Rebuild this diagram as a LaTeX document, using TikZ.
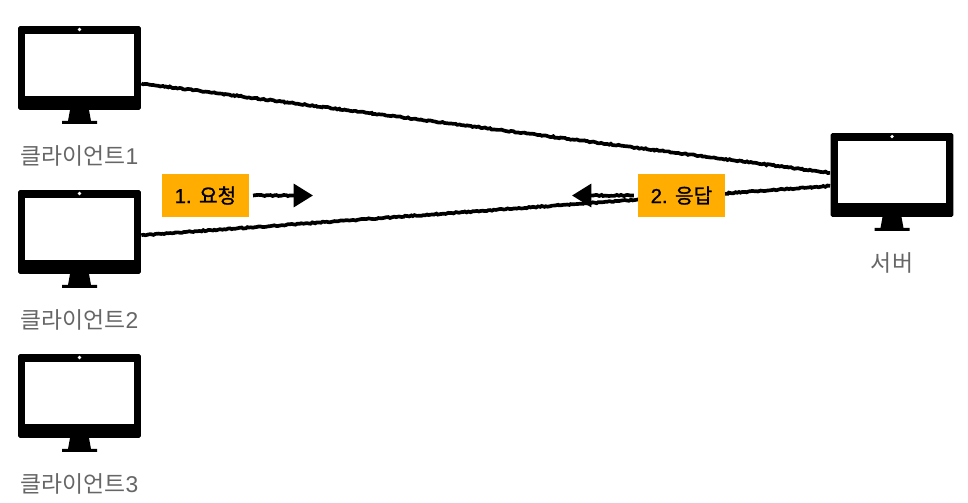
\documentclass[tikz,border=0pt]{standalone}
\usepackage{fontspec}
\usetikzlibrary{arrows.meta, decorations.pathmorphing}
\setmainfont{Liberation Sans}
\newfontfamily\krfont{Noto Sans CJK KR}

\definecolor{tagorange}{HTML}{FFAD00}
\definecolor{labelgray}{HTML}{666666}

\tikzset{
  monitor/.style={fill=black, rounded corners=1pt, inner sep=0pt, minimum width=2.46cm, minimum height=1.68cm},
  screen/.style={fill=white, inner sep=0pt, minimum width=2.18cm, minimum height=1.24cm},
  camdot/.style={fill=white, circle, inner sep=0pt, minimum size=2pt},
  devlabel/.style={text=labelgray, font=\fontsize{13}{15}\selectfont, inner sep=0pt},
  tag/.style={fill=tagorange, inner sep=0pt, outer xsep=2.3pt, minimum width=1.74cm, minimum height=.86cm, font=\fontsize{11.5}{14}\selectfont},
  sketch/.style={line width=2.1pt, decorate, decoration={random steps, segment length=1.1pt, amplitude=.35pt}},
  sketcharrow/.style={sketch, decoration={post length=12pt}, -{Triangle[length=11pt, width=13pt]}}
}

\newcommand{\monitorbox}[3]{
  \node[monitor] (#1) at (#2) {};
  \node[screen] (#1 screen) at ([yshift=.06cm]#1.center) {};
  \node[camdot] (#1 cam) at ([yshift=.77cm]#1.center) {};
  \fill ([shift={(-9.5,42)}]#1.center) -- ([shift={(9.5,42)}]#1.center) -- ([shift={(11.5,53)}]#1.center) -- ([shift={(17.5,53)}]#1.center) -- ([shift={(17.5,56)}]#1.center) -- ([shift={(-17.5,56)}]#1.center) -- ([shift={(-17.5,53)}]#1.center) -- ([shift={(-11.5,53)}]#1.center) -- cycle;
  \node[devlabel] (#1 label) at ([yshift=-1.76cm]#1.center) {#3};
}

\begin{document}
\begin{tikzpicture}[x=.02cm, y=-.02cm]
\useasboundingbox (0,0) rectangle (968,503);

\monitorbox{client1}{79.5,68}{{\krfont 클라이언트}1}
\monitorbox{client2}{79.5,232}{{\krfont 클라이언트}2}
\monitorbox{client3}{79.5,396}{{\krfont 클라이언트}3}
\monitorbox{server}{892,175}{{\krfont 서버}}

% request and response lines
\draw[sketch] (client1.-14) -- (server.178);
\draw[sketch] (client2.-3) -- (server.190);

\node[tag] (req) at (205.5,195.5) {\addfontfeature{FakeBold=1.2}1. {\krfont\addfontfeature{FakeBold=1.2}요청}};
\node[tag] (res) at (681.5,195.5) {\addfontfeature{FakeBold=1.2}2. {\krfont\addfontfeature{FakeBold=1.2}응답}};

\coordinate (reqtip) at (313,195.5);
\coordinate (restip) at (572,195.5);
\draw[sketcharrow] (req.east) -- (reqtip);
\draw[sketcharrow] (res.west) -- (restip);
\end{tikzpicture}
\end{document}
